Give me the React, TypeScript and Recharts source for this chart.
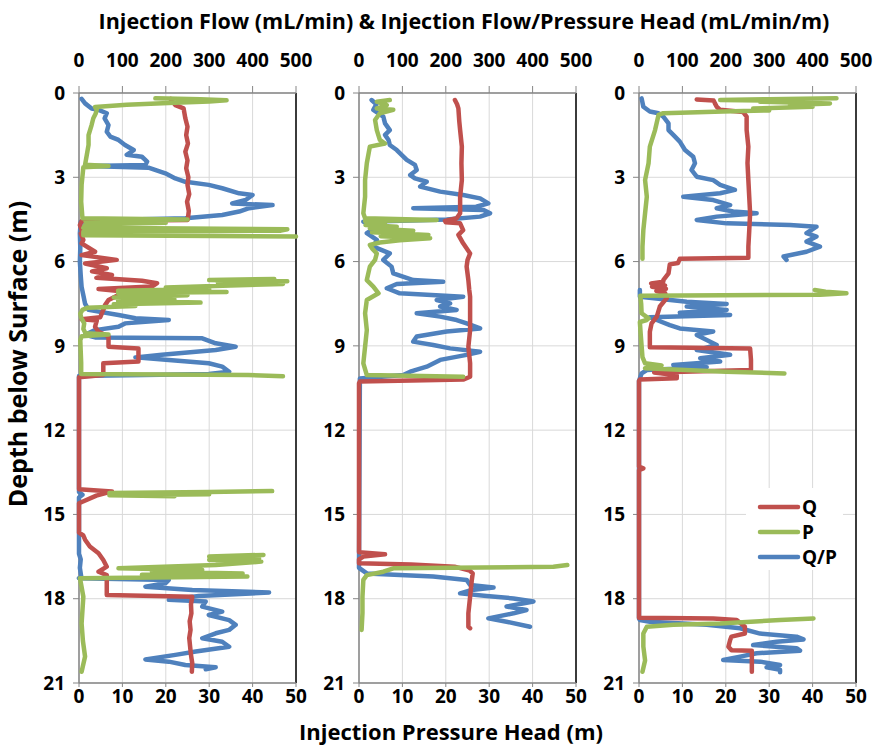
import React from 'react';
import { ComposedChart, Scatter, XAxis, YAxis, CartesianGrid, ReferenceLine } from 'recharts';

type Pt = [number, number] | null;

const FONT = '"Open Sans", "Noto Sans", sans-serif';
const RED = '#C0504D';
const GREEN = '#9BBB59';
const BLUE = '#4F81BD';

// Axis ticks
const depthTicks = [0, 3, 6, 9, 12, 15, 18, 21];
const flowTicks = [0, 100, 200, 300, 400, 500];
const headTicks = [0, 10, 20, 30, 40, 50];

// Legend entries
const legendNames = ['Q', 'P', 'Q/P'];
const legendColors = [RED, GREEN, BLUE];

// Each profile: [depth (m), value]; null breaks the trace where no reading is plotted.
// Well 1
const well1Q: Pt[] = [
  [0.21, 211], [0.3, 215], [0.43, 222], [0.55, 241], [0.9, 245], [1.2, 250], [1.5, 247], [1.8, 251], [2.09, 245],
  [2.4, 250], [2.68, 247], [3.0, 252], [3.27, 250], [3.6, 254], [3.87, 249], [4.2, 253], [4.46, 251], [4.52, 250],
  [4.56, 6], [4.7, 2], [4.88, 6], [4.94, 22], [5.0, 4], [5.23, 10], [5.35, 6], [5.65, 37], [5.77, 6], [5.94, 87],
  [6.07, 14], [6.24, 64], [6.35, 30], [6.48, 76], [6.58, 40], [6.68, 145], [6.77, 180], [6.89, 168], [6.98, 45],
  [7.07, 103], [7.19, 91], [7.37, 68], [7.55, 60], [7.72, 56], [7.98, 49], [8.05, 6], [8.1, 41], [8.32, 37],
  [8.5, 45], [8.67, 68], [9.03, 68], [9.09, 137], [9.56, 137], [9.62, 56], [10.04, 56], [10.12, 0], [14.1, 0],
  [14.18, 76], [14.33, 40], [14.6, 0], [15.65, 0], [15.75, 10], [15.9, 14], [16.14, 25], [16.38, 45], [16.62, 56],
  [16.86, 64], [17.04, 45], [17.16, 64], [17.87, 64], [17.93, 261], [18.2, 258], [18.52, 259], [18.8, 255],
  [19.11, 257], [19.4, 254], [19.7, 256], [20.0, 258], [20.3, 261], [20.6, 260],
];
const well1P: Pt[] = [
  [0.19, 17.6], [0.22, 28], [0.26, 34], [0.3, 30], [0.35, 22], [0.42, 11], [0.5, 3.7], [0.6, 4.1], [0.75, 3.8],
  [0.9, 3.3], [1.14, 2.9], [1.5, 2.2], [1.85, 2.2], [2.2, 1.8], [2.55, 1.4], [2.6, 6.8], [2.64, 1.0], [3.27, 0.6],
  [3.87, 0.5], [4.46, 0.8], [4.5, 25], [4.56, 1.5], [4.62, 20], [4.68, 1.5], [4.8, 1.0], [4.85, 48], [4.9, 46.5],
  [4.94, 1.0], [5.06, 1.0], [5.11, 50],
  null,
  [6.62, 45], [6.66, 30], [6.7, 48], [6.75, 32], [6.8, 47], [6.85, 35], [6.92, 20], [6.98, 30], [7.04, 9],
  [7.08, 34], [7.12, 9], [7.2, 25], [7.28, 8], [7.34, 22], [7.4, 9], [7.46, 28], [7.52, 8], [7.58, 13], [7.64, 2],
  [7.72, 0.8], [7.85, 0.3], [8.0, 0.5], [8.2, 1.2], [8.4, 1.0], [8.55, 1.5], [8.6, 6.8], [8.66, 0.6], [8.8, 0.3],
  [9.2, 0.4], [9.6, 0.5], [10.0, 0.5], [10.04, 39], [10.08, 47],
  null,
  [14.17, 44.5], [14.2, 30], [14.24, 7], [14.28, 30], [14.32, 7], [14.35, 22],
  null,
  [16.44, 42.5], [16.5, 30], [16.56, 41.5], [16.62, 30], [16.68, 42], [16.8, 31.5], [16.92, 9.1], [16.98, 28.4],
  [17.04, 16.8], [17.1, 37.7], [17.15, 14.5], [17.21, 38.8], [17.27, 0.2], [17.33, 0.3], [17.93, 1.0], [18.88, 0.6],
  [19.5, 0.9], [20.06, 1.4], [20.6, 0.6],
];
const well1QP: Pt[] = [
  [0.21, 6], [0.37, 14], [0.55, 29], [0.6, 45], [0.72, 64], [0.9, 59], [1.14, 68], [1.38, 64], [1.55, 72],
  [1.67, 91], [1.85, 106], [2.03, 126], [2.2, 110], [2.27, 145], [2.44, 157], [2.56, 153], [2.6, 22], [2.66, 160],
  [2.86, 199], [3.04, 222], [3.16, 245], [3.27, 299], [3.39, 330], [3.57, 369], [3.63, 400], [3.81, 384],
  [3.93, 353], [3.99, 446], [4.1, 392], [4.22, 369], [4.34, 330], [4.46, 245], [4.52, 68], [4.58, 4], [5.0, 2],
  [5.5, 3], [6.0, 2], [6.5, 4], [6.9, 6], [7.2, 10], [7.5, 14], [7.72, 22], [7.9, 91], [8.02, 130], [8.08, 207],
  [8.2, 106], [8.32, 91], [8.44, 37], [8.61, 14], [8.7, 37], [8.73, 284], [8.91, 315], [9.03, 361], [9.15, 315],
  [9.32, 191], [9.41, 130], [9.5, 207], [9.62, 299], [9.74, 330], [9.92, 346], [10.0, 299], [10.07, 0], [14.2, 0],
  [14.3, 8], [14.4, 0], [16.4, 0], [16.6, 4], [16.9, 2], [17.2, 5], [17.27, 0], [17.33, 207], [17.45, 199],
  [17.57, 153], [17.69, 261], [17.78, 438], [17.9, 276], [18.04, 207], [18.1, 292], [18.28, 284], [18.46, 330],
  [18.58, 299], [18.76, 346], [18.93, 361], [19.11, 346], [19.23, 315], [19.41, 284], [19.53, 330], [19.71, 346],
  [19.88, 269], [20.0, 222], [20.16, 153], [20.24, 207], [20.36, 245], [20.44, 315], [20.51, 292],
];

// Well 2
const well2Q: Pt[] = [
  [0.25, 221], [0.4, 226], [0.55, 229], [1.0, 231], [1.32, 233], [1.91, 237], [2.5, 236], [3.1, 237], [3.69, 233],
  [4.28, 233], [4.46, 225], [4.55, 198], [4.6, 200], [4.64, 233], [4.88, 240], [5.05, 229], [5.35, 240],
  [5.71, 256], [5.95, 250], [6.18, 248], [6.66, 252], [7.0, 254], [7.25, 256], [7.84, 256], [8.44, 256],
  [9.03, 252], [9.62, 256], [10.1, 256], [10.2, 240], [10.27, 2], [10.33, 0], [16.35, 0], [16.42, 60], [16.5, 10],
  [16.6, 0], [16.74, 0], [16.78, 120], [16.86, 220], [17.0, 255], [17.1, 262], [17.33, 260], [17.93, 256],
  [18.52, 252], [19.0, 252], [19.05, 256],
];
const well2P: Pt[] = [
  [0.25, 7.1], [0.31, 4.1], [0.43, 6.4], [0.55, 4.1], [0.6, 7.9], [0.72, 4.8], [0.96, 3.7], [1.32, 4.1],
  [1.67, 4.8], [1.8, 6.0], [1.91, 2.5], [2.5, 1.8], [3.1, 1.4], [3.69, 1.4], [4.28, 1.0], [4.46, 1.4], [4.52, 17.9],
  [4.56, 1.4], [4.64, 6], [4.7, 1.5], [4.76, 8.7], [4.82, 2.5], [4.9, 12.5], [4.96, 3], [5.05, 16], [5.1, 5],
  [5.17, 16.4], [5.24, 9.4], [5.32, 4.8], [5.41, 2.5], [5.53, 3], [5.71, 4.1], [5.94, 3.7], [6.18, 2.5],
  [6.66, 1.8], [6.89, 3.3], [7.13, 4.5], [7.37, 1.8], [7.84, 1.4], [8.44, 1.8], [9.03, 1.4], [9.62, 1.0],
  [10.04, 1.8], [10.1, 24],
  null,
  [16.8, 48], [16.86, 44.8], [16.92, 7.9], [17.04, 5.6], [17.16, 1.8], [17.33, 1.0], [17.93, 0.8], [18.5, 0.8],
  [19.11, 0.6],
];
const well2QP: Pt[] = [
  [0.25, 29], [0.4, 40], [0.6, 33], [0.84, 56], [1.08, 60], [1.32, 71], [1.49, 60], [1.67, 68], [1.85, 71],
  [2.03, 87], [2.38, 110], [2.56, 129], [2.74, 133], [2.92, 118], [3.04, 129], [3.16, 156], [3.33, 141],
  [3.51, 187], [3.63, 240], [3.75, 279], [3.93, 298], [4.05, 270], [4.1, 125], [4.16, 286], [4.28, 302],
  [4.4, 279], [4.5, 202], [4.58, 10], [4.76, 41], [4.99, 18], [5.23, 41], [5.47, 33], [5.71, 71], [5.94, 56],
  [6.18, 75], [6.42, 79], [6.66, 125], [6.72, 194], [6.8, 87], [6.95, 64], [7.13, 94], [7.25, 240], [7.37, 179],
  [7.49, 210], [7.6, 187], [7.72, 225], [7.84, 133], [7.96, 187], [8.08, 225], [8.2, 248], [8.38, 279],
  [8.49, 202], [8.67, 133], [8.85, 125], [8.97, 171], [9.09, 210], [9.21, 279], [9.32, 248], [9.5, 187],
  [9.74, 156], [9.92, 118], [10.04, 102], [10.16, 2], [16.9, 0], [17.1, 18], [17.21, 171], [17.33, 248],
  [17.51, 256], [17.6, 310], [17.69, 260], [17.81, 233], [17.9, 294], [17.99, 356], [18.1, 402], [18.28, 340],
  [18.4, 386], [18.52, 356], [18.7, 298], [18.82, 340], [19.0, 394],
];

// Well 3
const well3Q: Pt[] = [
  [0.23, 133], [0.27, 172], [0.37, 175], [0.49, 179], [0.6, 187], [0.68, 240], [0.84, 248], [1.32, 248],
  [1.91, 252], [2.5, 250], [3.1, 252], [3.7, 254], [4.28, 256], [4.9, 254], [5.47, 252], [5.86, 252], [5.9, 94],
  [6.05, 90], [6.1, 71], [6.42, 68], [6.66, 56], [6.72, 56], [6.78, 28], [6.85, 60], [6.9, 30], [6.97, 62],
  [7.05, 40], [7.12, 60], [7.3, 64], [7.6, 48], [7.96, 41], [8.2, 29], [8.5, 25], [9.05, 25], [9.09, 256],
  [9.5, 258], [9.86, 258], [9.95, 35], [10.05, 87], [10.15, 87], [10.2, 2], [10.25, 0], [13.3, 0], [13.36, 10],
  [13.42, 0], [18.68, 0], [18.7, 171], [18.76, 225], [19.0, 244], [19.24, 244], [19.35, 213], [19.47, 210],
  [19.71, 206], [19.83, 213], [19.85, 260], [20.43, 260], [20.6, 260],
];
const well3P: Pt[] = [
  [0.19, 45.5], [0.22, 30], [0.25, 18.7], [0.28, 40], [0.31, 27.9], [0.37, 44], [0.43, 34.8], [0.49, 40],
  [0.55, 26.3], [0.62, 30], [0.66, 19.4], [0.72, 5.6], [0.78, 4.5], [1.32, 3.7], [1.91, 2.5], [2.5, 2.2],
  [3.1, 1.4], [3.69, 1.8], [4.28, 1.4], [4.88, 1.0], [5.47, 0.8], [5.9, 0.8],
  null,
  [7.01, 40.5], [7.07, 43], [7.13, 47.8], [7.18, 41.7], [7.22, 0.3], [7.5, 0.5], [7.84, 0.6], [8.02, 2.2],
  [8.08, 1.8], [8.15, 0.2], [8.6, 0.4], [9.0, 0.6], [9.4, 0.8], [9.62, 1.4], [9.7, 5.2], [9.8, 1.4], [9.92, 20],
  [9.98, 33.5],
  null,
  [18.7, 40.2], [18.76, 32.5], [18.88, 18.7], [18.93, 7.9], [19.0, 1.8], [19.24, 1.0], [19.7, 1.0], [20.2, 1.4],
  [20.6, 0.8],
];
const well3QP: Pt[] = [
  [0.19, 6], [0.49, 10], [0.66, 25], [0.72, 45], [0.84, 56], [1.08, 68], [1.32, 68], [1.49, 79], [1.73, 94],
  [2.03, 106], [2.27, 125], [2.5, 129], [2.74, 121], [2.98, 133], [3.1, 171], [3.27, 187], [3.45, 221],
  [3.57, 187], [3.69, 102], [3.81, 171], [3.99, 210], [4.1, 179], [4.22, 217], [4.28, 271], [4.4, 179],
  [4.52, 133], [4.64, 202], [4.7, 348], [4.76, 409], [4.99, 386], [5.11, 409], [5.29, 386], [5.47, 417],
  [5.65, 386], [5.82, 333], [5.94, 340],
  null,
  [7.01, 2], [7.25, 2], [7.43, 110], [7.51, 202], [7.6, 110], [7.72, 202], [7.82, 94], [7.9, 210], [7.98, 25],
  [8.08, 41], [8.26, 71], [8.38, 94], [8.49, 171], [8.61, 133], [8.79, 156], [8.97, 179], [9.15, 133],
  [9.32, 210], [9.44, 141], [9.56, 187], [9.68, 79], [9.76, 156], [9.86, 18], [9.98, 6], [10.25, 0], [18.7, 0],
  [18.76, 2], [18.82, 25], [18.93, 156], [19.05, 233], [19.24, 279], [19.35, 363], [19.45, 379], [19.53, 317],
  [19.65, 263], [19.76, 363], [19.85, 371], [19.94, 271], [20.06, 233], [20.18, 194], [20.24, 279], [20.36, 325],
  [20.44, 294], [20.53, 325], [20.62, 325],
];

type Row = { d: number; v: number };

function toSegments(points: Pt[]): Row[][] {
  const segs: Row[][] = [];
  let cur: Row[] = [];
  for (const p of points) {
    if (p === null) {
      if (cur.length) segs.push(cur);
      cur = [];
    } else {
      cur.push({ d: p[0], v: p[1] });
    }
  }
  if (cur.length) segs.push(cur);
  return segs;
}

const axisGray = '#868686';
const tickText = { fontSize: 19, fontWeight: 700, fill: '#000', fontFamily: FONT };
const noDot = () => <g />;

function Panel({ left, q, p, qp }: { left: number; q: Pt[]; p: Pt[]; qp: Pt[] }) {
  const trace = (segs: Row[][], axis: string, color: string, key: string) =>
    segs.map((seg, i) => (
      <Scatter
        key={`${key}-${i}`}
        data={seg}
        xAxisId={axis}
        yAxisId="depth"
        fill={color}
        line={{ stroke: color, strokeWidth: 4.5, strokeLinejoin: 'round', strokeLinecap: 'round' }}
        lineType="joint"
        shape={noDot}
        isAnimationActive={false}
      />
    ));
  return (
    <div style={{ position: 'absolute', left, top: 0 }}>
      <ComposedChart width={287} height={748} margin={{ top: 0, right: 20, bottom: 35, left: 0 }}>
        <CartesianGrid xAxisId="flow" yAxisId="depth" stroke="#d9d9d9" strokeWidth={1} />
        <XAxis
          xAxisId="flow"
          orientation="top"
          type="number"
          dataKey="v"
          domain={[0, 500]}
          ticks={flowTicks}
          interval={0}
          height={93}
          tickSize={7}
          tickMargin={19}
          axisLine={{ stroke: axisGray, strokeWidth: 1.5 }}
          tickLine={{ stroke: axisGray }}
          tick={tickText}
        />
        <XAxis
          xAxisId="head"
          orientation="bottom"
          type="number"
          dataKey="v"
          domain={[0, 50]}
          ticks={headTicks}
          interval={0}
          height={30}
          tickSize={4}
          tickMargin={3}
          axisLine={{ stroke: axisGray, strokeWidth: 1.5 }}
          tickLine={{ stroke: axisGray }}
          tick={tickText}
        />
        <YAxis
          yAxisId="depth"
          type="number"
          dataKey="d"
          domain={[0, 21]}
          ticks={depthTicks}
          interval={0}
          reversed
          width={50}
          tickSize={6}
          tickMargin={8}
          axisLine={{ stroke: axisGray, strokeWidth: 1.5 }}
          tickLine={{ stroke: axisGray }}
          tick={tickText}
        />
        <ReferenceLine xAxisId="flow" yAxisId="depth" x={500} stroke="#000" strokeWidth={1.5} />
        {trace(toSegments(qp), 'flow', BLUE, 'qp')}
        {trace(toSegments(q), 'flow', RED, 'q')}
        {trace(toSegments(p), 'head', GREEN, 'p')}
      </ComposedChart>
    </div>
  );
}

export default function App() {
  return (
    <div style={{ position: 'absolute', left: 0, top: 0, width: 878, height: 748, background: '#fff', fontFamily: FONT }}>
      <Panel left={29} q={well1Q} p={well1P} qp={well1QP} />
      <Panel left={309} q={well2Q} p={well2P} qp={well2QP} />
      <Panel left={589} q={well3Q} p={well3P} qp={well3QP} />
      <svg width={878} height={748} style={{ position: 'absolute', left: 0, top: 0, pointerEvents: 'none' }}>
        <text x={464} y={29} textAnchor="middle" fontSize={21.5} fontWeight={700} fontFamily={FONT} fill="#000">
          Injection Flow (mL/min) &amp; Injection Flow/Pressure Head (mL/min/m)
        </text>
        <text x={451} y={740} textAnchor="middle" fontSize={22} fontWeight={700} fontFamily={FONT} fill="#000">
          Injection Pressure Head (m)
        </text>
        <text
          transform="translate(27, 354) rotate(-90)"
          textAnchor="middle"
          fontSize={25}
          fontWeight={700}
          fontFamily={FONT}
          fill="#000"
        >
          Depth below Surface (m)
        </text>
        <g>
          <rect x={746} y={488} width={97} height={82} fill="#fff" />
          {legendNames.map((name, i) => (
            <g key={name}>
              <line x1={760} x2={798} y1={507 + i * 25} y2={507 + i * 25} stroke={legendColors[i]} strokeWidth={4.5} strokeLinecap="round" />
              <text x={802} y={514 + i * 25} fontSize={19} fontWeight={700} fontFamily={FONT} fill="#000">
                {name}
              </text>
            </g>
          ))}
        </g>
      </svg>
    </div>
  );
}
